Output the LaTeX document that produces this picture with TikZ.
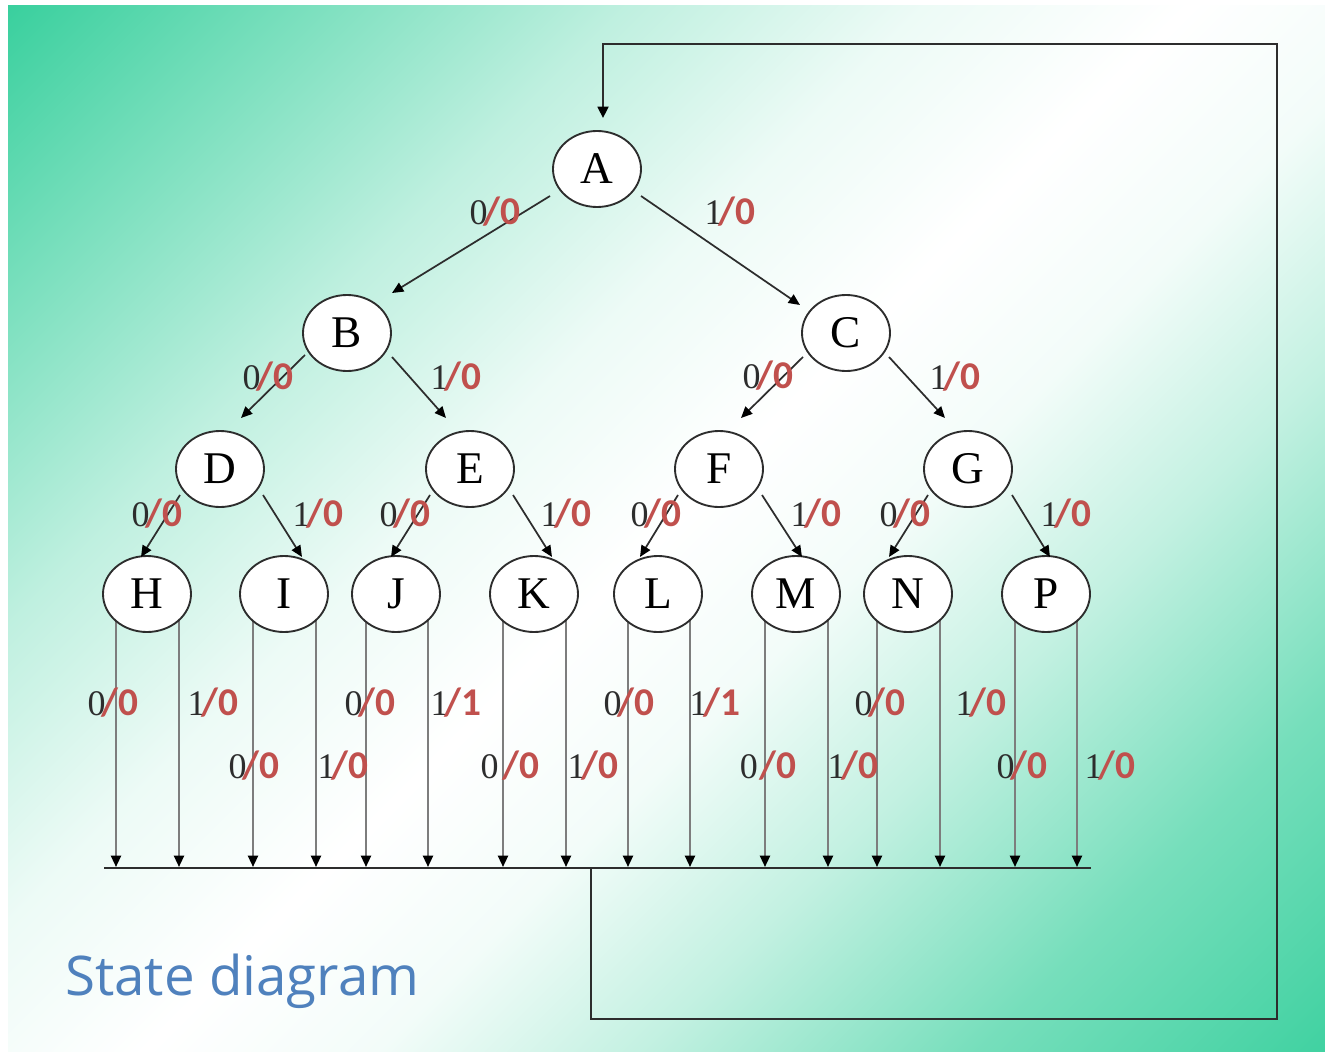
\documentclass[tikz,border=0pt]{standalone}
\usepackage{fontspec}
\setmainfont{Liberation Serif}
\newfontfamily\redfont{Carlito}
\newfontfamily\capfont{Open Sans}
\usetikzlibrary{shapes.geometric,arrows.meta}

\definecolor{tealbg}{RGB}{54,207,156}
\definecolor{lblred}{RGB}{192,80,77}
\definecolor{capblue}{RGB}{79,129,189}
\definecolor{inkdark}{RGB}{45,45,45}
\definecolor{dropgray}{RGB}{125,125,125}

% diagonal slide background: teal in two corners, white across the middle
\pgfdeclarehorizontalshading{slidebg}{100bp}{%
  color(0bp)=(tealbg); color(14bp)=(tealbg); color(24bp)=(tealbg!64);
  color(33bp)=(tealbg!32); color(42bp)=(tealbg!9); color(50bp)=(white);
  color(57bp)=(tealbg!6); color(65bp)=(tealbg!30); color(75bp)=(tealbg!68);
  color(86bp)=(tealbg!96); color(100bp)=(tealbg)}

\pgfdeclarelayer{bg}
\pgfdeclarelayer{back}
\pgfsetlayers{bg,back,main}

% input/output label: dark serif input bit, red bold "/output"
\newcommand\io[3][-3pt]{{\color{inkdark}\fontsize{27}{27}\selectfont #2}\kern#1{\redfont\bfseries\fontsize{29.5}{29.5}\selectfont\color{lblred}/#3}}

\tikzset{
  state/.style={ellipse, draw=inkdark, line width=1.4pt, fill=white,
    minimum width=66pt, minimum height=57pt, inner sep=0pt,
    font=\fontsize{34}{34}\selectfont},
  edge/.style={draw=inkdark, line width=1.3pt, -{Triangle[length=8.5pt,width=7.5pt,color=black]}},
  drop/.style={draw=dropgray, line width=1.6pt, -{Triangle[length=8.5pt,width=7.5pt,color=black]}},
  busline/.style={draw=inkdark, line width=2pt},
  feedback/.style={draw=inkdark, line width=2pt, -{Triangle[length=8.5pt,width=8pt,color=black]}},
  io/.style={inner sep=0pt}
}

\begin{document}
\begin{tikzpicture}[x=0.75pt, y=-0.75pt]
\useasboundingbox (0,0) rectangle (1325,1052);

\begin{pgfonlayer}{bg}
  \fill[white] (0,0) rectangle (1325,1052);
  \shade[shading=slidebg, shading angle=-45] (8,6) rectangle (1325,1052);
\end{pgfonlayer}

% states
\node[state] (A) at (597,169) {A};
\node[state] (B) at (347,333) {B};
\node[state] (C) at (846,333) {C};
\node[state] (D) at (220,469) {D};
\node[state] (E) at (470,469) {E};
\node[state] (F) at (719,469) {F};
\node[state] (G) at (968,469) {G};
\node[state] (H) at (147,594) {H};
\node[state] (I) at (284,594) {I};
\node[state] (J) at (396,594) {J};
\node[state] (K) at (534,594) {K};
\node[state] (L) at (658,594) {L};
\node[state] (M) at (796,594) {M};
\node[state] (N) at (908,594) {N};
\node[state] (P) at (1046,594) {P};

% tree transitions
\draw[edge] ([shift={(-47,27)}]A.center) -- ([shift={(45,-40)}]B.center);
\draw[edge] ([shift={(44,27)}]A.center) -- ([shift={(-46,-28)}]C.center);
\draw[edge] ([shift={(-42,22)}]B.center) -- ([shift={(21,-51)}]D.center);
\draw[edge] ([shift={(45,24)}]B.center) -- ([shift={(-24,-51)}]E.center);
\draw[edge] ([shift={(-43,24)}]C.center) -- ([shift={(22,-51)}]F.center);
\draw[edge] ([shift={(43,24)}]C.center) -- ([shift={(-23,-51)}]G.center);
\draw[edge] ([shift={(-40,26)}]D.center) -- ([shift={(-6,-37)}]H.center);
\draw[edge] ([shift={(43,26)}]D.center) -- ([shift={(18,-37)}]I.center);
\draw[edge] ([shift={(-40,26)}]E.center) -- ([shift={(-5,-37)}]J.center);
\draw[edge] ([shift={(43,26)}]E.center) -- ([shift={(18,-37)}]K.center);
\draw[edge] ([shift={(-41,26)}]F.center) -- ([shift={(-18,-37)}]L.center);
\draw[edge] ([shift={(43,26)}]F.center) -- ([shift={(6,-37)}]M.center);
\draw[edge] ([shift={(-40,26)}]G.center) -- ([shift={(-19,-37)}]N.center);
\draw[edge] ([shift={(44,26)}]G.center) -- ([shift={(4,-37)}]P.center);

% bus and the return path to A
\coordinate (busL) at (104,868);
\coordinate (busR) at (1091,868);
\coordinate (tap) at (591,868);
\coordinate (r1) at (591,1019);
\coordinate (r2) at (1277,1019);
\coordinate (r3) at (1277,44);
\coordinate (r4) at (603,44);
\draw[busline] (busL) -- (busR);
\draw[feedback, shorten >=9pt] (tap) -- (r1) -- (r2) -- (r3) -- (r4) -- (r4 |- A.north);

% leaf outputs dropping onto the bus
\foreach \nm/\xx in {H1/116,H2/179,I1/253,I2/316,J1/366,J2/428,K1/503,K2/566,
                     L1/628,L2/690,M1/765,M2/828,N1/877,N2/940,P1/1015,P2/1077}
  \coordinate (b\nm) at (\xx,867);
\begin{pgfonlayer}{back}
  \foreach \s in {H,I,J,K,L,M,N,P}{
    \draw[drop] (b\s1 |- \s.center) -- (b\s1);
    \draw[drop] (b\s2 |- \s.center) -- (b\s2);
  }
\end{pgfonlayer}

% transition labels
\node[io] (lAB) at (495,212) {\io{0}{0}};
\node[io] (lAC) at (730,212) {\io{1}{0}};
\node[io] (lBD) at (268,377) {\io{0}{0}};
\node[io] (lBE) at (456,377) {\io{1}{0}};
\node[io] (lCF) at (768,376) {\io{0}{0}};
\node[io] (lCG) at (955,377) {\io{1}{0}};
\node[io] (lDH) at (157,514) {\io{0}{0}};
\node[io] (lDI) at (318,514) {\io{1}{0}};
\node[io] (lEJ) at (405,514) {\io{0}{0}};
\node[io] (lEK) at (566,514) {\io{1}{0}};
\node[io] (lFL) at (656,514) {\io{0}{0}};
\node[io] (lFM) at (816,514) {\io{1}{0}};
\node[io] (lGN) at (905,514) {\io{0}{0}};
\node[io] (lGP) at (1066,514) {\io{1}{0}};

\node[io] (lH0) at (113,703) {\io{0}{0}};
\node[io] (lH1) at (213,703) {\io{1}{0}};
\node[io] (lI0) at (254,766) {\io{0}{0}};
\node[io] (lI1) at (343,766) {\io{1}{0}};
\node[io] (lJ0) at (370,703) {\io{0}{0}};
\node[io] (lJ1) at (456,703) {\io{1}{1}};
\node[io] (lK0) at (510,766) {\io[3pt]{0}{0}};
\node[io] (lK1) at (593,766) {\io{1}{0}};
\node[io] (lL0) at (629,703) {\io{0}{0}};
\node[io] (lL1) at (715,703) {\io{1}{1}};
\node[io] (lM0) at (768,766) {\io[1pt]{0}{0}};
\node[io] (lM1) at (853,766) {\io{1}{0}};
\node[io] (lN0) at (880,703) {\io{0}{0}};
\node[io] (lN1) at (981,703) {\io{1}{0}};
\node[io] (lP0) at (1022,766) {\io{0}{0}};
\node[io] (lP1) at (1110,766) {\io{1}{0}};

% caption
\node[anchor=base west, inner sep=0pt, text=capblue,
      font=\capfont\fontsize{41}{41}\selectfont] (title) at (65,995) {State diagram};
\end{tikzpicture}
\end{document}
